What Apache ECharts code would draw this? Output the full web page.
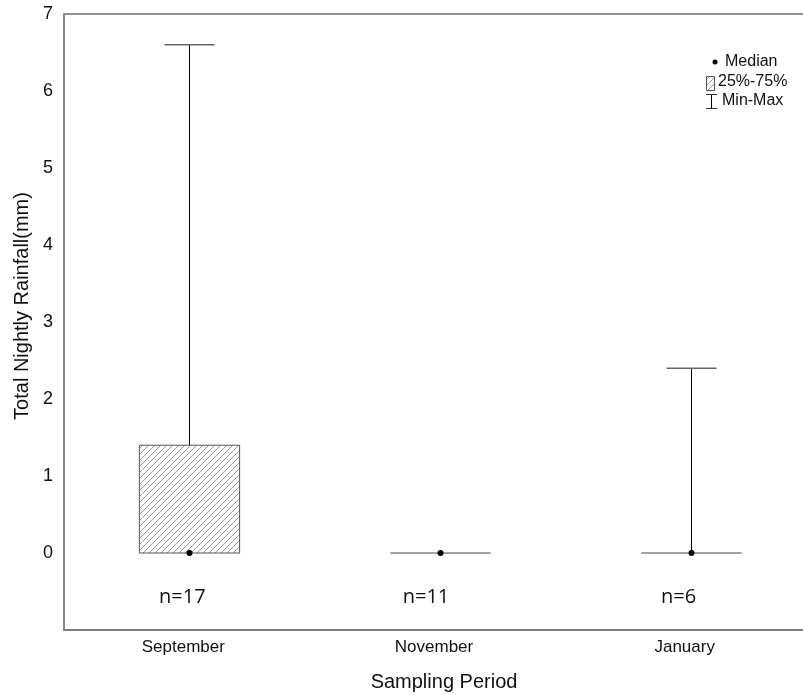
<!DOCTYPE html>
<html>
<head>
<meta charset="utf-8">
<script src="https://cdn.jsdelivr.net/npm/echarts@6/dist/echarts.min.js"></script>
<style>html,body{margin:0;padding:0;background:#fff}#chart{width:803px;height:695px}</style>
</head>
<body>
<div id="chart"></div>
<script>
const months = ['September', 'November', 'January'];
const minVals = [0, 0, 0];
const q1Vals = [0, 0, 0];
const medianVals = [0, 0, 0];
const q3Vals = [1.4, 0, 0];
const maxVals = [6.6, 0, 2.4];
const nLabels = ['n=17', 'n=11', 'n=6'];
const nLabelY = -0.58;
const yTicks = [0, 1, 2, 3, 4, 5, 6, 7];

function makeHatch() {
  const s = 6;
  const c = document.createElement('canvas');
  c.width = s; c.height = s;
  const ctx = c.getContext('2d');
  ctx.fillStyle = '#fff';
  ctx.fillRect(0, 0, s, s);
  ctx.strokeStyle = '#999';
  ctx.lineWidth = 1;
  ctx.beginPath();
  ctx.moveTo(0, s); ctx.lineTo(s, 0);
  ctx.moveTo(-s / 2, s / 2); ctx.lineTo(s / 2, -s / 2);
  ctx.moveTo(s / 2, s * 1.5); ctx.lineTo(s * 1.5, s / 2);
  ctx.stroke();
  return c;
}
const hatch = makeHatch();

const boxData = months.map((m, i) => [i, minVals[i], q1Vals[i], medianVals[i], q3Vals[i], maxVals[i]]);
const nData = months.map((m, i) => [i, nLabelY, nLabels[i]]);
const nOffsets = [-7, -14, -12];

const chart = echarts.init(document.getElementById('chart'), null, {renderer: 'canvas'});
chart.setOption({
  animation: false,
  grid: {left: 64, top: 14, width: 752, height: 616, show: true, borderColor: '#222', borderWidth: 1, outerBoundsMode: 'none', containLabel: false},
  xAxis: {
    type: 'category', data: months, boundaryGap: true,
    axisLine: {onZero: false, lineStyle: {color: '#777', width: 1.5}},
    axisTick: {inside: true, alignWithLabel: true, length: 3, lineStyle: {color: '#333'}},
    axisLabel: {color: '#111', fontSize: 17, fontFamily: 'Liberation Sans, Arial', margin: 9, padding: [0, 12, 0, 0]},
    name: 'Sampling Period', nameLocation: 'middle', nameGap: 42,
    nameTextStyle: {color: '#111', fontSize: 20, fontFamily: 'Liberation Sans, Arial', padding: [0, 0, 0, 8]},
    splitLine: {show: false}
  },
  yAxis: {
    type: 'value', min: -1, max: 7, interval: 1,
    axisLine: {show: true, lineStyle: {color: '#888', width: 2}},
    axisTick: {inside: true, length: 3, lineStyle: {color: '#333'}},
    axisLabel: {color: '#111', fontSize: 18, fontFamily: 'Liberation Sans, Arial', margin: 11,
      formatter: v => (yTicks.indexOf(v) >= 0 ? String(v) : '')},
    splitLine: {show: false},
    name: 'Total Nightly Rainfall(mm)', nameLocation: 'middle', nameGap: 32,
    nameTextStyle: {color: '#111', fontSize: 20, fontFamily: 'Liberation Sans, Arial', padding: [0, 0, 0, 32]}
  },
  series: [
    {
      type: 'custom',
      data: boxData,
      renderItem: function (params, api) {
        const x = api.value(0);
        const pMin = api.coord([x, api.value(1)]);
        const pQ1 = api.coord([x, api.value(2)]);
        const pMed = api.coord([x, api.value(3)]);
        const pQ3 = api.coord([x, api.value(4)]);
        const pMax = api.coord([x, api.value(5)]);
        const band = api.size([1, 0])[0];
        const bw = band * 0.4;
        const cw = band * 0.2;
        const cx = Math.round(pMed[0]) + 0.5;
        const children = [];
        if (pMax[1] < pQ3[1]) {
          children.push({type: 'line', shape: {x1: cx, y1: pQ3[1], x2: cx, y2: pMax[1]}, style: {stroke: '#000', lineWidth: 1}});
          children.push({type: 'line', shape: {x1: cx - cw / 2, y1: pMax[1], x2: cx + cw / 2, y2: pMax[1]}, style: {stroke: '#666', lineWidth: 1.5}});
        }
        if (pMin[1] > pQ1[1]) {
          children.push({type: 'line', shape: {x1: cx, y1: pQ1[1], x2: cx, y2: pMin[1]}, style: {stroke: '#000', lineWidth: 1}});
          children.push({type: 'line', shape: {x1: cx - cw / 2, y1: pMin[1], x2: cx + cw / 2, y2: pMin[1]}, style: {stroke: '#666', lineWidth: 1.5}});
        }
        const h = pQ1[1] - pQ3[1];
        if (h > 0.5) {
          children.push({type: 'rect', shape: {x: cx - bw / 2, y: pQ3[1], width: bw, height: h},
            style: {fill: {image: hatch, repeat: 'repeat'}, stroke: '#555', lineWidth: 1}});
        } else {
          children.push({type: 'line', shape: {x1: cx - bw / 2, y1: pQ1[1], x2: cx + bw / 2, y2: pQ1[1]}, style: {stroke: '#444', lineWidth: 1}});
        }
        children.push({type: 'circle', shape: {cx: cx, cy: pMed[1], r: 3}, style: {fill: '#000'}});
        return {type: 'group', children: children};
      },
      z: 5
    },
    {
      type: 'custom',
      data: nData,
      renderItem: function (params, api) {
        const p = api.coord([api.value(0), api.value(1)]);
        return {type: 'text', x: p[0] + nOffsets[params.dataIndex], y: p[1],
          style: {text: nLabels[params.dataIndex], fill: '#111', fontSize: 20, fontFamily: 'Open Sans', align: 'center', verticalAlign: 'middle'}};
      }
    }
  ],
  graphic: [
    {type: 'circle', shape: {cx: 715, cy: 62, r: 2.5}, style: {fill: '#000'}},
    {type: 'text', x: 725, y: 62, style: {text: 'Median', fill: '#111', fontSize: 16, fontFamily: 'Liberation Sans, Arial', verticalAlign: 'middle'}},
    {type: 'rect', shape: {x: 706.5, y: 76.5, width: 8, height: 14}, style: {fill: {image: hatch, repeat: 'repeat'}, stroke: '#555', lineWidth: 1}},
    {type: 'text', x: 718, y: 82, style: {text: '25%-75%', fill: '#111', fontSize: 16, fontFamily: 'Liberation Sans, Arial', verticalAlign: 'middle'}},
    {type: 'line', shape: {x1: 711.5, y1: 94, x2: 711.5, y2: 108}, style: {stroke: '#000', lineWidth: 1}},
    {type: 'line', shape: {x1: 706, y1: 94.5, x2: 717, y2: 94.5}, style: {stroke: '#333', lineWidth: 1}},
    {type: 'line', shape: {x1: 706, y1: 108.5, x2: 717, y2: 108.5}, style: {stroke: '#333', lineWidth: 1}},
    {type: 'text', x: 722, y: 101, style: {text: 'Min-Max', fill: '#111', fontSize: 16, fontFamily: 'Liberation Sans, Arial', verticalAlign: 'middle'}}
  ]
});
</script>
</body>
</html>
